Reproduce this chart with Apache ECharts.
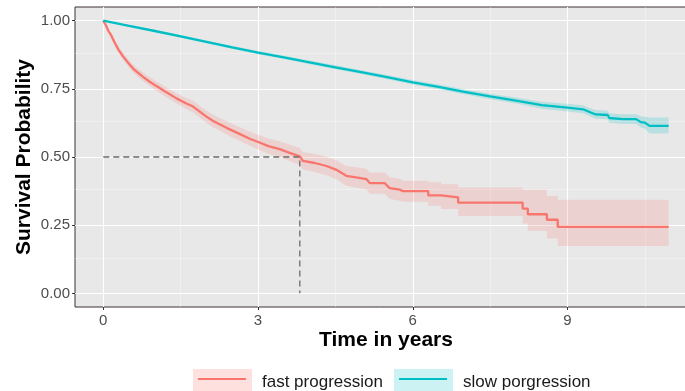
<!DOCTYPE html>
<html>
<head>
<meta charset="utf-8">
<script src="https://cdn.jsdelivr.net/npm/echarts@6/dist/echarts.min.js"></script>
<style>
html,body{margin:0;padding:0;background:#ffffff;overflow:hidden;}
#chart{width:685px;height:391px;}
</style>
</head>
<body>
<div id="chart"></div>
<script>
// ---- tick values ----
const xTicks = [0, 3, 6, 9];
const yTicks = [0, 0.25, 0.5, 0.75, 1];
const xMinor = [1.5, 4.5, 7.5, 10.5];
const yMinor = [0.125, 0.375, 0.625, 0.875];

// ---- fast progression (Kaplan-Meier estimate + 95% CI) ----
const fastTime  = [0,0.05,0.10,0.16,0.22,0.29,0.38,0.48,0.60,0.77,0.90,1.03,1.20,1.42,1.60,1.74,2.00,2.13,2.40,2.65,2.85,3.03,3.20,3.42,3.60,3.81,3.87,4.10,4.33,4.52,4.71,4.90,5.10,5.17,5.46,5.55,5.75,5.81,6.30,6.30,6.55,6.55,6.88,6.88,8.13,8.13,8.23,8.23,8.60,8.60,8.81,8.81,10.96];
const fastSurv  = [1,0.983,0.962,0.944,0.920,0.895,0.870,0.846,0.820,0.794,0.776,0.760,0.740,0.715,0.697,0.685,0.648,0.632,0.606,0.584,0.566,0.553,0.540,0.529,0.516,0.502,0.486,0.478,0.467,0.453,0.431,0.425,0.419,0.404,0.404,0.386,0.380,0.375,0.375,0.359,0.359,0.352,0.352,0.333,0.333,0.311,0.311,0.290,0.290,0.270,0.270,0.244,0.244];
const fastUpper = [1,0.988,0.970,0.954,0.931,0.907,0.883,0.860,0.835,0.810,0.792,0.777,0.758,0.734,0.717,0.706,0.670,0.655,0.630,0.609,0.592,0.580,0.568,0.558,0.546,0.533,0.518,0.511,0.501,0.488,0.467,0.462,0.457,0.443,0.443,0.426,0.420,0.413,0.413,0.407,0.407,0.400,0.400,0.388,0.388,0.380,0.380,0.380,0.380,0.358,0.358,0.343,0.343];
const fastLower = [1,0.978,0.954,0.934,0.909,0.883,0.857,0.832,0.805,0.778,0.760,0.743,0.722,0.696,0.677,0.664,0.626,0.609,0.582,0.559,0.540,0.526,0.512,0.500,0.486,0.471,0.454,0.445,0.433,0.418,0.395,0.388,0.381,0.365,0.365,0.346,0.340,0.336,0.336,0.321,0.321,0.309,0.309,0.284,0.284,0.256,0.256,0.229,0.229,0.201,0.201,0.174,0.174];

// ---- slow progression ----
const slowTime  = [0,0.5,1.0,1.5,2.0,2.5,3.0,3.5,4.0,4.5,5.0,5.5,6.0,6.5,7.0,7.5,8.0,8.5,9.0,9.3,9.45,9.55,9.78,9.81,10.07,10.33,10.42,10.5,10.59,10.96];
const slowSurv  = [1,0.981,0.962,0.942,0.922,0.902,0.883,0.865,0.847,0.829,0.811,0.793,0.774,0.757,0.739,0.722,0.707,0.690,0.681,0.675,0.663,0.656,0.654,0.643,0.639,0.639,0.628,0.626,0.614,0.614];
const slowUpper = [1,0.984,0.966,0.947,0.927,0.908,0.889,0.871,0.854,0.836,0.818,0.801,0.782,0.766,0.748,0.732,0.718,0.703,0.695,0.690,0.678,0.672,0.670,0.660,0.657,0.657,0.649,0.648,0.645,0.645];
const slowLower = [1,0.978,0.958,0.937,0.917,0.896,0.877,0.859,0.840,0.822,0.804,0.785,0.766,0.748,0.730,0.712,0.696,0.677,0.667,0.660,0.648,0.640,0.638,0.626,0.621,0.621,0.608,0.604,0.586,0.586];

// ---- median survival of fast group ----
const medianTime = 3.81;
const medianSurv = 0.5;

const seriesNames = ['fast progression', 'slow porgression'];
const FONT = '"Liberation Sans", Arial, Helvetica, sans-serif';
const RED = '#F8766D', TEAL = '#00BFC4';

function zip(a, b) { return a.map((v, i) => [v, b[i]]); }

// confidence band polygon drawn through the library's coordinate system
function bandSeries(name, time, lower, upper, fill) {
  return {
    name: name, type: 'custom', silent: true, z: 2, clip: true,
    data: time.map((t, i) => [t, lower[i], upper[i]]),
    encode: {x: 0, y: [1, 2]},
    renderItem: function (params, api) {
      if (params.dataIndex !== 0) return null;
      const pts = [];
      for (let i = 0; i < time.length; i++) pts.push(api.coord([time[i], upper[i]]));
      for (let i = time.length - 1; i >= 0; i--) pts.push(api.coord([time[i], lower[i]]));
      return {type: 'polygon', shape: {points: pts}, style: {fill: fill, stroke: null}};
    }
  };
}

const major = {color: '#ffffff', width: 1.1, type: 'solid'};
const minor = {color: 'rgba(255,255,255,0.5)', width: 0.7, type: 'solid'};
const gridLineData = []
  .concat(xMinor.map(v => ({xAxis: v, lineStyle: minor})))
  .concat(yMinor.map(v => ({yAxis: v, lineStyle: minor})))
  .concat(xTicks.map(v => ({xAxis: v, lineStyle: major})))
  .concat(yTicks.map(v => ({yAxis: v, lineStyle: major})));

const chart = echarts.init(document.getElementById('chart'), null, {renderer: 'canvas'});
const option = {
  animation: false,
  backgroundColor: '#ffffff',
  grid: {
    left: 75, width: 622, top: 7, height: 300,
    outerBoundsMode: 'none', containLabel: false,
    show: true, backgroundColor: '#E8E8E8', borderColor: '#3f3030', borderWidth: 1
  },
  xAxis: {
    type: 'value', min: -0.548, max: 11.51,
    axisLine: {show: false, onZero: false},
    splitLine: {show: false},
    axisTick: {show: true, customValues: xTicks, length: 3, lineStyle: {color: '#333333', width: 1}},
    axisLabel: {customValues: xTicks, margin: 6, fontSize: 15, color: '#4D4D4D', fontFamily: FONT},
    name: 'Time in years', nameLocation: 'middle', nameGap: 23, nameMoveOverlap: false,
    nameTextStyle: {fontWeight: 'bold', fontSize: 21, color: '#000000', fontFamily: FONT}
  },
  yAxis: {
    type: 'value', min: -0.05, max: 1.05,
    axisLine: {show: false, onZero: false},
    splitLine: {show: false},
    axisTick: {show: true, customValues: yTicks, length: 3, lineStyle: {color: '#333333', width: 1}},
    axisLabel: {customValues: yTicks, margin: 5, fontSize: 15, color: '#4D4D4D', fontFamily: FONT,
      formatter: v => v.toFixed(2)},
    name: 'Survival Probability', nameLocation: 'middle', nameGap: 40, nameMoveOverlap: false,
    nameTextStyle: {fontWeight: 'bold', fontSize: 21, color: '#000000', fontFamily: FONT}
  },
  legend: [
    {data: [seriesNames[0]], left: 193, top: 369, icon: 'none', itemWidth: 59, itemHeight: 14,
     selectedMode: false, textStyle: {fontSize: 17, color: '#1A1A1A', fontFamily: FONT}},
    {data: [seriesNames[1]], left: 394, top: 369, icon: 'none', itemWidth: 59, itemHeight: 14,
     selectedMode: false, textStyle: {fontSize: 17, color: '#1A1A1A', fontFamily: FONT}}
  ],
  graphic: [
    {type: 'rect', silent: true, z: 0, shape: {x: 193, y: 369, width: 59, height: 23}, style: {fill: '#FEE1DF'}},
    {type: 'line', silent: true, z: 1, shape: {x1: 198, y1: 379, x2: 246, y2: 379}, style: {stroke: RED, lineWidth: 2}},
    {type: 'rect', silent: true, z: 0, shape: {x: 394, y: 369, width: 59, height: 23}, style: {fill: '#CCF2F3'}},
    {type: 'line', silent: true, z: 1, shape: {x1: 399, y1: 379, x2: 447, y2: 379}, style: {stroke: TEAL, lineWidth: 2}}
  ],
  series: [
    {type: 'line', data: [], silent: true, z: 1,
     markLine: {silent: true, symbol: ['none', 'none'], label: {show: false}, animation: false, z: 1, data: gridLineData}},
    bandSeries('fast_ci', fastTime, fastLower, fastUpper, 'rgba(248,118,109,0.2)'),
    bandSeries('slow_ci', slowTime, slowLower, slowUpper, 'rgba(0,191,196,0.2)'),
    {name: seriesNames[0], type: 'line', data: zip(fastTime, fastSurv), symbol: 'none', z: 3,
     lineStyle: {color: RED, width: 2.3}, itemStyle: {color: RED}},
    {name: seriesNames[1], type: 'line', data: zip(slowTime, slowSurv), symbol: 'none', z: 3,
     lineStyle: {color: TEAL, width: 2.3}, itemStyle: {color: TEAL}},
    {name: 'median', type: 'line', data: [[0, medianSurv], [medianTime, medianSurv], [medianTime, 0]],
     symbol: 'none', z: 4, silent: true, lineStyle: {color: '#6b6b6b', width: 1.3, type: [6, 4]}}
  ]
};
chart.setOption(option);
</script>
</body>
</html>
